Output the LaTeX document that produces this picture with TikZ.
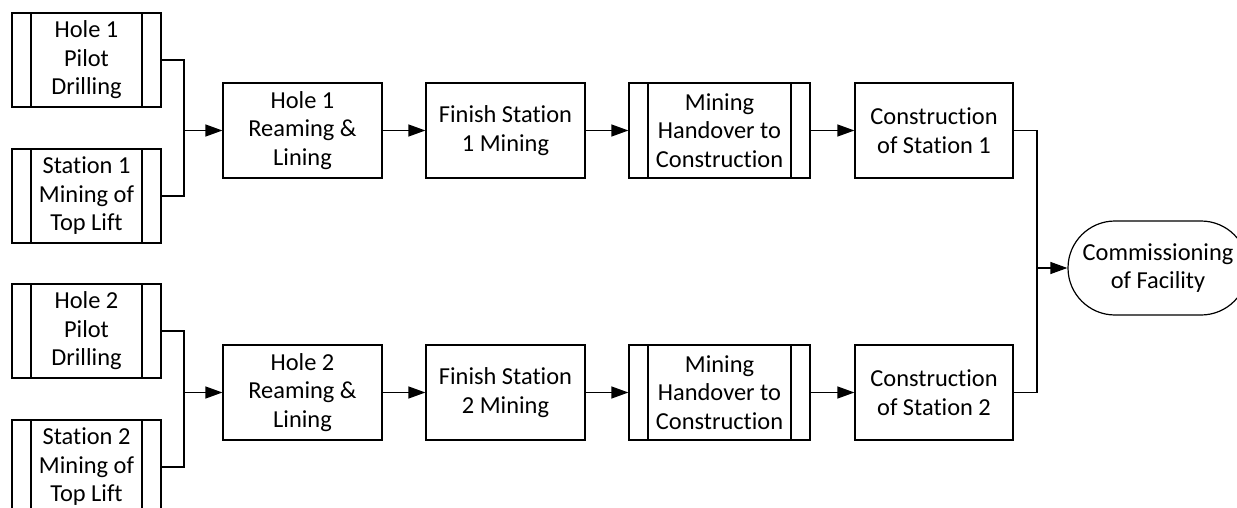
\documentclass[tikz,border=0pt]{standalone}
\usepackage{fontspec}
\setmainfont{Carlito}[Ligatures=NoCommon]
\usetikzlibrary{arrows.meta,shapes.misc}
\begin{document}
\begin{tikzpicture}[x=1pt,y=-1pt,
  line width=1.2pt,
  every node/.style={font=\fontsize{24.4}{28.5}\selectfont, align=center, inner sep=0pt},
  task/.style={draw, rectangle, minimum width=159pt, minimum height=95pt},
  subtask/.style={draw, rectangle, minimum width=#1, minimum height=94pt,
    path picture={
      \draw ([xshift=19pt]path picture bounding box.north west) -- ([xshift=19pt]path picture bounding box.south west);
      \draw ([xshift=-19pt]path picture bounding box.north east) -- ([xshift=-19pt]path picture bounding box.south east);
    }},
  subtask/.default=149pt,
  terminal/.style={draw, rounded rectangle, minimum width=180pt, minimum height=94pt},
  arr/.style={-{Triangle[length=17pt,width=12pt]}}
]
\clip (0,0) rectangle (1237,508);

% feeder activities
\node[subtask] (p1) at (86.5,60)  {Hole 1\\Pilot\\Drilling};
\node[subtask] (s1) at (86.5,196) {Station 1\\Mining of\\Top Lift};
\node[subtask] (p2) at (86.5,331) {Hole 2\\Pilot\\Drilling};
\node[subtask] (s2) at (86.5,467) {Station 2\\Mining of\\Top Lift};

% station 1 chain
\node[task] (r1) at (302.5,130.5) {Hole 1\\Reaming \&\\Lining};
\node[task] (f1) at (505.5,130.5) {Finish Station\\1 Mining};
\node[subtask=181pt, minimum height=95pt] (m1) at (719.5,130.5) {Mining\\Handover to\\Construction};
\node[task, minimum width=158pt] (c1) at (934,130.5) {Construction\\of Station 1};

% station 2 chain
\node[task] (r2) at (302.5,392.5) {Hole 2\\Reaming \&\\Lining};
\node[task] (f2) at (505.5,392.5) {Finish Station\\2 Mining};
\node[subtask=181pt, minimum height=95pt] (m2) at (719.5,392.5) {Mining\\Handover to\\Construction};
\node[task, minimum width=158pt] (c2) at (934,392.5) {Construction\\of Station 2};

% final milestone
\node[terminal] (t) at (1158,268) {Commissioning\\of Facility};

% junction points
\coordinate (j1) at (184,130.5);
\coordinate (j2) at (184,392.5);
\coordinate (j3) at (1037,268);

\draw (p1.east) -| (j1);
\draw (s1.east) -| (j1);
\draw[arr] (j1) -- (r1.west);
\draw[arr] (r1) -- (f1);
\draw[arr] (f1) -- (m1);
\draw[arr] (m1) -- (c1);

\draw (p2.east) -| (j2);
\draw (s2.east) -| (j2);
\draw[arr] (j2) -- (r2.west);
\draw[arr] (r2) -- (f2);
\draw[arr] (f2) -- (m2);
\draw[arr] (m2) -- (c2);

\draw (c1.east) -| (j3);
\draw (c2.east) -| (j3);
\draw[arr] (j3) -- (t.west);
\end{tikzpicture}
\end{document}
